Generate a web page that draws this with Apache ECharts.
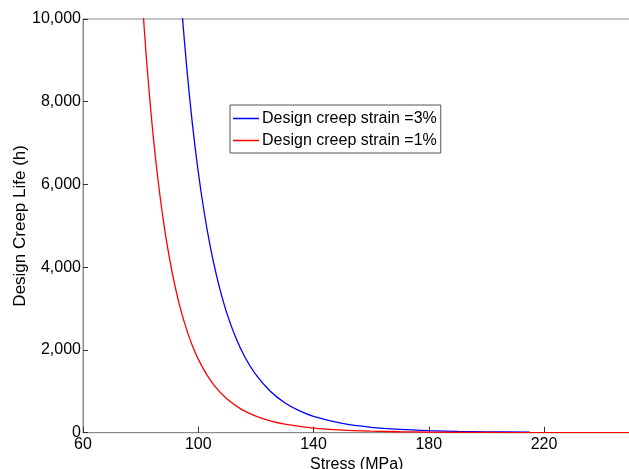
<!DOCTYPE html>
<html>
<head>
<meta charset="utf-8">
<script src="https://cdn.jsdelivr.net/npm/echarts@6/dist/echarts.min.js"></script>
<style>html,body{margin:0;padding:0;background:#fff}#c{width:629px;height:469px}</style>
</head>
<body>
<div id="c"></div>
<script>
// Stress (MPa) and design creep life (h)
const stress3 = [94.3, 96, 98, 100, 102, 104, 106, 108, 110, 113, 116, 120, 125, 130, 135, 140, 150, 160, 170, 180, 190, 200, 215];
const life3   = [10221, 8826, 7442, 6301, 5353, 4561, 3900, 3344, 2873, 2302, 1855, 1403, 1003, 725, 532, 394, 223, 131, 80, 50, 32, 21, 12];
const stress1 = [80.5, 82, 84, 86, 88, 90, 92, 94, 96, 98, 100, 103, 106, 110, 115, 120, 125, 130, 140, 150, 160, 170, 180, 200, 220, 250];
const life1   = [10526, 9052, 7429, 6127, 5074, 4219, 3522, 2952, 2486, 2098, 1778, 1396, 1103, 814, 565, 399, 285, 207, 113, 64, 38, 23, 14, 6, 3, 1];
const seriesNames = ['Design creep strain =3%', 'Design creep strain =1%'];
const xTitle = 'Stress (MPa)';
const yTitle = 'Design Creep Life (h)';

const zip = (a, b) => a.map((v, i) => [v, b[i]]);
const font = 'Liberation Sans, Arial, sans-serif';
const chart = echarts.init(document.getElementById('c'), null, {renderer: 'canvas'});
chart.setOption({
  animation: false,
  backgroundColor: '#fff',
  grid: {left: 83, top: 19, width: 547.5, height: 413.7, containLabel: false, outerBoundsMode: 'none',
         show: true, borderColor: '#8a8a8a', borderWidth: 1, backgroundColor: 'transparent'},
  legend: {
    orient: 'vertical', left: 230, top: 105,
    data: seriesNames,
    icon: 'rect', itemWidth: 26, itemHeight: 1.5, itemGap: 5,
    padding: [5, 4, 4, 3],
    borderColor: '#555', borderWidth: 1, backgroundColor: '#fff',
    textStyle: {fontFamily: font, fontSize: 16, color: '#000', lineHeight: 17, padding: [0, 0, 0, -2]}
  },
  xAxis: {
    type: 'value', min: 60, max: 250, interval: 40,
    name: xTitle, nameLocation: 'middle', nameGap: 24, nameMoveOverlap: false,
    nameTextStyle: {fontFamily: font, fontSize: 16, color: '#000'},
    axisLine: {show: true, lineStyle: {color: '#8a8a8a', width: 1}},
    axisTick: {show: true, inside: true, length: 6, lineStyle: {color: '#333'}},
    axisLabel: {fontFamily: font, fontSize: 16, color: '#000', margin: 4, showMaxLabel: false},
    splitLine: {show: false}
  },
  yAxis: {
    type: 'value', min: 0, max: 10000, interval: 2000,
    name: yTitle, nameLocation: 'middle', nameGap: 54, nameRotate: 90, nameMoveOverlap: false,
    nameTextStyle: {fontFamily: font, fontSize: 17, color: '#000'},
    axisLine: {show: true, lineStyle: {color: '#8a8a8a', width: 1}},
    axisTick: {show: true, inside: true, length: 5, lineStyle: {color: '#333'}},
    axisLabel: {fontFamily: font, fontSize: 16, color: '#000', margin: 2, formatter: v => v.toLocaleString('en-US')},
    splitLine: {show: false}
  },
  series: [
    {name: seriesNames[0], type: 'line', data: zip(stress3, life3), showSymbol: false, smooth: 0.3, clip: true,
     lineStyle: {color: '#0000ff', width: 1.3}, itemStyle: {color: '#0000ff'}},
    {name: seriesNames[1], type: 'line', data: zip(stress1, life1), showSymbol: false, smooth: 0.3, clip: true,
     lineStyle: {color: '#ff0000', width: 1.3}, itemStyle: {color: '#ff0000'}}
  ]
});
</script>
</body>
</html>
